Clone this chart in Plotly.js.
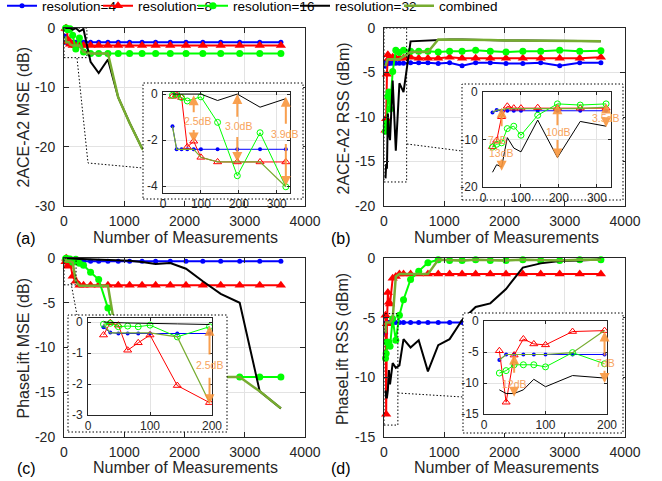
<!DOCTYPE html>
<html><head><meta charset="utf-8">
<script src="https://cdn.plot.ly/plotly-3.0.1.min.js"></script>
<style>html,body{margin:0;padding:0;background:#fff}#chart{width:662px;height:481px}</style>
</head><body><div id="chart"></div>
<script>
// ---------------- data ----------------
const measurements = [25,36,49,64,81,100,144,196,256,324,441,576,729,900,1089,1296,1521,1764,2025,2304,2601,2916,3249,3600];
const seriesNames = ['resolution=4','resolution=8','resolution=16','resolution=32','combined'];

// (a) 2ACE-A2 MSE (dB)
const aceMse_res4  = [-1.4,-2.4,-2.4,-2.4,-2.4,-2.4,-2.4,-2.4,-2.4,-2.4,-2.4,-2.4,-2.4,-2.4,-2.4,-2.4,-2.4,-2.4,-2.4,-2.4,-2.4,-2.4,-2.4,-2.4];
const aceMse_res8  = [-0.1,-0.05,-0.15,-2.3,-2.05,-2.75,-2.95,-2.95,-2.95,-2.95,-2.95,-2.95,-2.95,-2.95,-2.95,-2.95,-2.95,-2.95,-2.95,-2.95,-2.95,-2.95,-2.95,-2.95];
const aceMse_res16 = [-0.05,0,-0.15,-0.3,null,-0.12,-1.23,-3.55,-1.68,-4.03,-4.3,-4.3,-4.3,-4.3,-4.3,-4.3,-4.3,-4.3,-4.3,-4.3,-4.3,-4.3,-4.3,-4.3];
const aceMse_res32 = [0,0,0,0,0,0,-0.28,0,-0.57,-0.2,-5.7,-7.6,-5.3,-11.7,-16,-20.3,-22,-23.5,-24.5,-25,-25.5,-26,-26.5,-27];
const aceMse_comb  = [-1.4,-2.4,-2.4,-2.4,-2.4,-2.75,-2.95,-2.95,-2.95,-4.03,-4.3,-4.3,-4.3,-11.7,-16,-20.3,-22,-23.5,-24.5,-25,-25.5,-26,-26.5,-27];

// (b) 2ACE-A2 RSS (dBm)
const aceRss_res4  = [-4.3,-3.8,-3.95,-3.95,-3.95,-3.95,-3.95,-3.95,-3.95,-3.95,-3.9,-3.9,-3.9,-4.0,-3.9,-4.25,-3.9,-3.9,-4.0,-4.0,-3.9,-4.25,-3.9,-3.9];
const aceRss_res8  = [-11.5,-10.2,-5.2,-3.0,-3.4,-3.4,-3.3,-3.4,-3.4,-3.4,-3.3,-3.4,-3.4,-3.4,-3.3,-3.4,-3.4,-3.4,-3.4,-3.4,-3.4,-3.4,-3.4,-3.3];
const aceRss_res16 = [-11.6,-11.0,-10.7,-7.7,-7.2,-9.1,-4.9,-2.5,-2.75,-2.5,-2.6,-2.6,-2.6,-2.7,-2.6,-2.6,-2.5,-2.6,-2.7,-2.6,-2.6,-2.5,-2.6,-2.55];
const aceRss_res32 = [-16.9,-15.3,-15.8,-9.6,-11.8,-12.6,-5.9,-13.8,-6.2,-7.2,-1.5,-1.45,-1.4,-1.3,-1.3,-1.3,-1.35,-1.35,-1.4,-1.4,-1.4,-1.45,-1.45,-1.5];
const aceRss_comb  = [-4.3,-3.8,-3.7,-3.5,-3.5,-3.5,-3.5,-3.5,-3.5,-3.2,-2.7,-2.7,-2.7,-1.3,-1.3,-1.3,-1.35,-1.35,-1.4,-1.4,-1.4,-1.45,-1.45,-1.5];

// (c) PhaseLift MSE (dB)
const plMse_res4  = [-0.17,-0.34,-0.37,-0.37,-0.37,-0.37,-0.37,-0.37,-0.37,-0.37,-0.37,-0.37,-0.37,-0.37,-0.37,-0.37,-0.37,-0.37,-0.37,-0.37,-0.37,-0.37,-0.37,-0.37];
const plMse_res8  = [-0.42,-0.02,-0.1,-0.91,-0.67,-0.42,-2.05,-2.6,-3.05,-3.05,-3.05,-3.05,-3.05,-3.05,-3.05,-3.05,-3.05,-3.05,-3.05,-3.05,-3.05,-3.05,-3.05,-3.05];
const plMse_res16 = [-0.07,-0.04,-0.15,-0.13,-0.15,-0.1,-0.48,-0.15,-0.6,-0.8,-1.6,-2.4,-5.6,-10,-13.3,-13.3,-13.3,-13.3,-13.3,-13.3,-13.3,-13.3,-13.3,-13.3];
const plMse_res32 = [0,0,-0.02,-0.03,-0.04,-0.05,-0.06,-0.08,-0.1,-0.12,-0.15,-0.18,-0.2,-0.22,-0.3,-0.45,-0.67,-0.56,-1.2,-2.6,-4.0,-5.0,-14.9,-16.8];
const plMse_comb  = [-0.07,-0.35,-0.35,-0.35,-0.35,-0.35,-0.48,-2.6,-3.1,-3.1,-3.1,-3.1,-3.1,-10,-13.3,-13.3,-13.3,-13.3,-13.3,-13.3,-13.3,-13.3,-14.9,-16.8];

// (d) PhaseLift RSS (dBm)
const plRss_res4  = [-6.3,-5.4,-5.4,-5.4,-5.4,-5.4,-5.4,-5.4,-5.4,-5.4,-5.4,-5.4,-5.4,-5.4,-5.4,-5.4,-5.4,-5.4,-5.4,-5.4,-5.4,-5.4,-5.4,-5.4];
const plRss_res8  = [-4.8,-13.1,-5.5,-2.9,-3.7,-3.85,-1.7,-1.55,-1.35,-1.35,-1.35,-1.35,-1.35,-1.35,-1.35,-1.35,-1.35,-1.35,-1.35,-1.35,-1.35,-1.35,-1.35,-1.35];
const plRss_res16 = [-8.4,-8.0,-7.06,-7.06,-7.06,-7.4,-5.1,-6.9,-4.8,-3.5,-1.8,-1.1,-0.4,-0.15,-0.2,-0.2,-0.15,-0.2,-0.2,-0.15,-0.2,-0.2,-0.15,-0.15];
const plRss_res32 = [-11.1,-11.7,-11.7,-11.1,-9.4,-10.6,-8.8,-9.2,-9.0,-6.8,-7.5,-6.9,-9.5,-7.3,-6.8,-5.2,-4.1,-3.8,-2.6,-0.8,-0.45,-0.25,-0.2,-0.12];
const plRss_comb  = [-6.3,-5.4,-5.4,-5.4,-5.4,-5.4,-5.1,-1.55,-1.35,-1.35,-1.35,-1.35,-1.35,-0.15,-0.2,-0.2,-0.15,-0.2,-0.2,-0.15,-0.2,-0.2,-0.15,-0.15];

// tick labels
const xTicksMain = [0,1000,2000,3000,4000];
const yTicksA = [-30,-20,-10,0];
const yTicksB = [-20,-15,-10,-5,0];
const yTicksC = [-20,-15,-10,-5,0];
const yTicksD = [-15,-10,-5,0];
const xTicksInsetAB = [0,100,200,300];
const xTicksInsetCD = [0,100,200];
const yTicksInsetA = [-4,-2,0];
const yTicksInsetB = [-20,-10,0];
const yTicksInsetC = [-3,-2,-1,0];
const yTicksInsetD = [-15,-10,-5,0];
const yTitles = ['2ACE-A2 MSE (dB)','2ACE-A2 RSS (dBm)','PhaseLift MSE (dB)','PhaseLift RSS (dBm)'];
const xTitle = 'Number of Measurements';
const panelLabels = ['(a)','(b)','(c)','(d)'];

// gap annotations: [label, labelX, labelY, arrowX, upTail, upTip, downTail, downTip]
const gapsA = [['2.5dB',92,-1.15,81,-0.85,-0.05,-1.5,-2.1],['3.0dB',200,-1.4,196,-1.05,0,-1.8,-2.95],['3.9dB',321,-1.72,324,-1.35,-0.12,-2.1,-4.0]];
const gapsB = [['13dB',50,-12.9,49,-7.5,-3.3,-13.9,-16.6],['10dB',200,-8.5,196,-7.3,-2.6,-9.8,-14],['3.5dB',322,-5.4,324,-4.4,-2.4,-6.3,-7.4]];
const extraB = [['7dB',38,-10.2]];
const gapsC = [['2.5dB',196,-1.4,196,-1.1,-0.12,-1.75,-2.65]];
const gapsD = [['12dB',50,-10.2,49,-8.6,-5.4,-11.1,-12.2],['7dB',197,-6.8,196,-5.8,-1.7,-7.8,-10]];

// ---------------- layout helpers ----------------
const W = 662, H = 481;
const fx = v => v / W;
const fy = v => 1 - v / H;
const FONT = 'Liberation Sans, Arial, Helvetica, sans-serif';
const AXC = '#262626';
const DOT = '1.5px,2px';
const id = i => (i === 1 ? '' : String(i));
const hyph = arr => arr.map(v => String(v));

const mainBoxes = [
  {l:64, r:305, t:28, b:206, yr:[-30,0], yt:yTicksA},
  {l:384, r:625, t:28, b:206, yr:[-20,0], yt:yTicksB},
  {l:64, r:305, t:258, b:437, yr:[-20,0], yt:yTicksC},
  {l:384, r:625, t:258, b:437, yr:[-15,0], yt:yTicksD}
];
const coverBoxes = [
  {l:143, r:303, t:83, b:199},
  {l:462, r:623, t:84, b:200},
  {l:68, r:227, t:315, b:432},
  {l:463, r:623, t:313, b:433}
];
const insetBoxes = [
  {l:163, r:290, t:92, b:193, xr:[0,335], xt:xTicksInsetAB, yr:[-4.3,0.09], yt:yTicksInsetA, n:10},
  {l:483, r:611, t:92, b:187, xr:[0,337], xt:xTicksInsetAB, yr:[-20,0], yt:yTicksInsetB, n:10},
  {l:88, r:212, t:318, b:415, xr:[0,200], xt:xTicksInsetCD, yr:[-3,0.13], yt:yTicksInsetC, n:8},
  {l:484, r:607, t:321, b:414, xr:[0,200], xt:xTicksInsetCD, yr:[-15,0], yt:yTicksInsetD, n:8}
];
const panelSeries = [
  [aceMse_res4, aceMse_res8, aceMse_res16, aceMse_res32, aceMse_comb],
  [aceRss_res4, aceRss_res8, aceRss_res16, aceRss_res32, aceRss_comb],
  [plMse_res4, plMse_res8, plMse_res16, plMse_res32, plMse_comb],
  [plRss_res4, plRss_res8, plRss_res16, plRss_res32, plRss_comb]
];
// title / label placement (px)
const yTitlePos = [[22.5,118],[342.5,119],[22.5,348],[342,349]];
const xTitlePos = [[185,237],[506,237],[185,467],[506,467]];
const labelPos = [[26,238],[341,238],[26,468],[341,468]];

const colors = ['#0000FF','#FF0000','#00FF00','#000000','#77AC30'];
const mainStyle = [
  {mode:'lines+markers', w:2, marker:{symbol:'circle', size:5}},
  {mode:'lines+markers', w:2, marker:{symbol:'triangle-up', size:9}},
  {mode:'lines+markers', w:2, marker:{symbol:'circle', size:7}},
  {mode:'lines', w:2},
  {mode:'lines', w:2.5}
];
const insetStyle = [
  {mode:'lines+markers', w:1, marker:{symbol:'circle', size:4}},
  {mode:'lines+markers', w:1, marker:{symbol:'triangle-up-open', size:7, line:{width:1}}},
  {mode:'lines+markers', w:1, marker:{symbol:'circle-open', size:6, line:{width:1}}},
  {mode:'lines', w:1},
  {mode:'lines', w:1.2}
];
const legendWidths = [51, 50, 57, 59, 60];

// ---------------- traces ----------------
const traces = [];
panelSeries.forEach((series, pi) => {
  const ax = id(pi + 1);
  series.forEach((ys, si) => {
    const st = mainStyle[si];
    const t = {type:'scatter', x:measurements, y:ys, xaxis:'x'+ax, yaxis:'y'+ax,
      name:seriesNames[si], legendgroup:seriesNames[si], showlegend:pi===0,
      legendwidth:legendWidths[si], mode:st.mode, connectgaps:true, cliponaxis:false,
      line:{color:colors[si], width:st.w}, hoverinfo:'skip'};
    if (st.marker) t.marker = Object.assign({color:colors[si]}, st.marker);
    traces.push(t);
  });
});
coverBoxes.forEach((c, ci) => {
  const ax = id(ci + 5);
  traces.push({type:'scatter', x:[null], y:[null], xaxis:'x'+ax, yaxis:'y'+ax, mode:'markers', showlegend:false, hoverinfo:'skip'});
});
panelSeries.forEach((series, pi) => {
  const ax = id(pi + 9);
  const n = insetBoxes[pi].n;
  series.forEach((ys, si) => {
    const st = insetStyle[si];
    const t = {type:'scatter', x:measurements.slice(0, n), y:ys.slice(0, n), xaxis:'x'+ax, yaxis:'y'+ax,
      name:seriesNames[si], legendgroup:seriesNames[si], showlegend:false,
      mode:st.mode, connectgaps:true, cliponaxis:true,
      line:{color:colors[si], width:st.w}, hoverinfo:'skip'};
    if (st.marker) t.marker = Object.assign({color:colors[si]}, st.marker);
    traces.push(t);
  });
});

// ---------------- layout ----------------
const layout = {
  width:W, height:H,
  margin:{l:0, r:0, t:0, b:0, pad:0, autoexpand:false},
  paper_bgcolor:'#ffffff', plot_bgcolor:'#ffffff',
  font:{family:FONT, color:AXC},
  showlegend:true,
  legend:{orientation:'h', x:fx(2), y:1 + 9.5/H, xanchor:'left', yanchor:'top',
    font:{family:FONT, size:13.5, color:'#000'}, bgcolor:'rgba(0,0,0,0)', borderwidth:0, traceorder:'normal'},
  hovermode:false,
  shapes:[], annotations:[]
};

mainBoxes.forEach((b, i) => {
  const ax = id(i + 1);
  layout['xaxis' + ax] = {
    domain:[fx(b.l), fx(b.r)], anchor:'y'+ax, range:[0,4000], autorange:false,
    tickmode:'array', tickvals:xTicksMain, ticktext:hyph(xTicksMain),
    showline:true, linecolor:AXC, linewidth:1, mirror:'ticks', ticks:'inside', ticklen:5, tickcolor:AXC,
    showgrid:true, gridcolor:'#e3e3e3', zeroline:false,
    tickfont:{size:14, color:AXC}, ticklabelstandoff:2
  };
  layout['yaxis' + ax] = {
    domain:[fy(b.b), fy(b.t)], anchor:'x'+ax, range:b.yr, autorange:false,
    tickmode:'array', tickvals:b.yt, ticktext:hyph(b.yt),
    showline:true, linecolor:AXC, linewidth:1, mirror:'ticks', ticks:'inside', ticklen:5, tickcolor:AXC,
    showgrid:true, gridcolor:'#e3e3e3', zeroline:false,
    tickfont:{size:14, color:AXC}, ticklabelstandoff:5
  };
  layout.annotations.push({text:yTitles[i], xref:'paper', yref:'paper', x:fx(yTitlePos[i][0]), y:fy(yTitlePos[i][1]),
    textangle:-90, xanchor:'center', yanchor:'middle', showarrow:false, font:{size:16, color:AXC}});
  layout.annotations.push({text:xTitle, xref:'paper', yref:'paper', x:fx(xTitlePos[i][0]), y:fy(xTitlePos[i][1]),
    xanchor:'center', yanchor:'middle', showarrow:false, font:{size:16, color:AXC}});
});
coverBoxes.forEach((c, i) => {
  const ax = id(i + 5);
  const hidden = {showline:false, showgrid:false, zeroline:false, showticklabels:false, ticks:'', range:[0,1], autorange:false, fixedrange:true};
  layout['xaxis' + ax] = Object.assign({domain:[fx(c.l), fx(c.r)], anchor:'y'+ax}, hidden);
  layout['yaxis' + ax] = Object.assign({domain:[fy(c.b), fy(c.t)], anchor:'x'+ax}, hidden);
  layout.shapes.push({type:'rect', xref:'paper', yref:'paper', x0:fx(c.l), x1:fx(c.r), y0:fy(c.b), y1:fy(c.t),
    line:{color:'#000', width:1, dash:DOT}, fillcolor:'rgba(0,0,0,0)', layer:'above'});
});
insetBoxes.forEach((b, i) => {
  const ax = id(i + 9);
  layout['xaxis' + ax] = {
    domain:[fx(b.l), fx(b.r)], anchor:'y'+ax, range:b.xr, autorange:false,
    tickmode:'array', tickvals:b.xt, ticktext:hyph(b.xt),
    showline:true, linecolor:AXC, linewidth:1, mirror:'ticks', ticks:'inside', ticklen:3, tickcolor:AXC,
    showgrid:true, gridcolor:'#e3e3e3', zeroline:false, tickfont:{size:12, color:AXC}, ticklabelstandoff:0
  };
  layout['yaxis' + ax] = {
    domain:[fy(b.b), fy(b.t)], anchor:'x'+ax, range:b.yr, autorange:false,
    tickmode:'array', tickvals:b.yt, ticktext:hyph(b.yt),
    showline:true, linecolor:AXC, linewidth:1, mirror:'ticks', ticks:'inside', ticklen:3, tickcolor:AXC,
    showgrid:true, gridcolor:'#e3e3e3', zeroline:false, tickfont:{size:12, color:AXC}, ticklabelstandoff:2
  };
});

// zoom rectangles (in main-axis data units) and connectors
const zoomRects = [[0,380,-5,0],[0,376,-17.3,0],[0,200,-3,0],[0,230,-14,-4.66]];
zoomRects.forEach((r, i) => {
  const ax = id(i + 1);
  layout.shapes.push({type:'rect', xref:'x'+ax, yref:'y'+ax, x0:r[0], x1:r[1], y0:r[2], y1:r[3],
    line:{color:'#000', width:1, dash:DOT}, fillcolor:'rgba(0,0,0,0)', layer:'above'});
});
const connectors = [[[77,58],[88,163],[143,168]],[[407,144],[462,151]],[[71,283],[77,315]],[[398,393],[463,397]]];
connectors.forEach(pts => {
  const path = pts.map((p, k) => (k ? 'L' : 'M') + fx(p[0]) + ',' + fy(p[1])).join(' ');
  layout.shapes.push({type:'path', xref:'paper', yref:'paper', path:path, line:{color:'#000', width:1, dash:DOT}, layer:'above'});
});

// panel labels
panelLabels.forEach((t, i) => {
  layout.annotations.push({text:t, xref:'paper', yref:'paper', x:fx(labelPos[i][0]), y:fy(labelPos[i][1]),
    xanchor:'center', yanchor:'middle', showarrow:false, font:{size:16, color:'#000'}});
});

// orange gap arrows
const ORANGE = '#F7A35C', ARROW = 'rgba(249,150,60,0.9)';
function addGaps(gaps, axIdx) {
  const xr = 'x' + id(axIdx), yr = 'y' + id(axIdx);
  gaps.forEach(g => {
    layout.annotations.push({text:'', xref:xr, yref:yr, axref:xr, ayref:yr, x:g[3], y:g[5], ax:g[3], ay:g[4],
      showarrow:true, arrowhead:2, arrowsize:1, arrowwidth:2, arrowcolor:ARROW});
    layout.annotations.push({text:'', xref:xr, yref:yr, axref:xr, ayref:yr, x:g[3], y:g[7], ax:g[3], ay:g[6],
      showarrow:true, arrowhead:2, arrowsize:1, arrowwidth:2, arrowcolor:ARROW});
    layout.annotations.push({text:g[0], xref:xr, yref:yr, x:g[1], y:g[2], showarrow:false,
      font:{size:10.5, color:ORANGE}, xanchor:'center', yanchor:'middle'});
  });
}
addGaps(gapsA, 9);
addGaps(gapsB, 10);
addGaps(gapsC, 11);
addGaps(gapsD, 12);
extraB.forEach(e => layout.annotations.push({text:e[0], xref:'x10', yref:'y10', x:e[1], y:e[2], showarrow:false,
  font:{size:10.5, color:ORANGE}, xanchor:'center', yanchor:'middle'}));

Plotly.newPlot('chart', traces, layout, {staticPlot:true, displayModeBar:false});
</script>
</body></html>
